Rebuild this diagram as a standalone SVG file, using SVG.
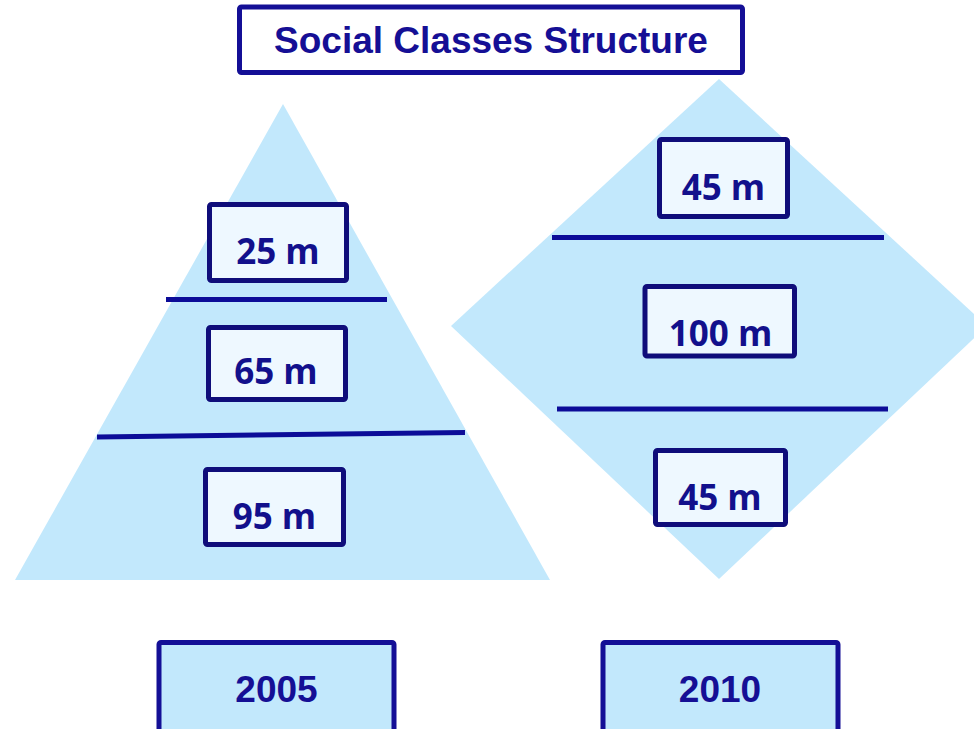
<svg xmlns="http://www.w3.org/2000/svg" width="974" height="729" viewBox="0 0 974 729">
  <style>
    .shape { fill: #c2e8fc; }
    .cls { fill: #eef8ff; stroke: #0f0d7a; stroke-width: 5; stroke-linejoin: round; }
    .year { fill: #c2e8fc; stroke: #140f96; stroke-width: 5; stroke-linejoin: round; }
    .title-box { fill: #ffffff; stroke: #140f96; stroke-width: 5; stroke-linejoin: round; }
    .divider { stroke: #0c0c98; stroke-width: 5; stroke-linecap: butt; }
    .lbl { font-family: "Open Sans", "Noto Sans", "DejaVu Sans", sans-serif; font-weight: 700; font-size: 35px; fill: #12108c; text-anchor: middle; }
    .head { font-family: "Liberation Sans", Arial, sans-serif; font-weight: 700; font-size: 37px; fill: #150f95; text-anchor: middle; }
  </style>

  <!-- heading -->
  <g id="title">
    <rect class="title-box" x="239.5" y="7" width="503" height="65.5" rx="2"/>
    <text class="head" x="491" y="53">Social Classes Structure</text>
  </g>

  <!-- 2005: pyramid -->
  <g id="pyramid-2005">
    <polygon class="shape" points="283,104 15,580 550,580"/>
  </g>

  <!-- 2010: diamond, drawn as two halves sharing the middle edge -->
  <g id="diamond-2010">
    <polygon class="shape" points="719,79 451,326 987,326"/>
    <polygon class="shape" points="451,326 719,579 987,326"/>
  </g>

  <!-- divider lines between classes -->
  <g id="dividers">
    <line class="divider" x1="166" y1="299.5" x2="387" y2="299.5"/>
    <line class="divider" x1="97" y1="437" x2="465" y2="432.5"/>
    <line class="divider" x1="552" y1="237.5" x2="884" y2="237.5"/>
    <line class="divider" x1="557" y1="409" x2="888" y2="409"/>
  </g>

  <!-- class sizes, 2005 -->
  <g id="c2005-upper">
    <rect class="cls" x="209.5" y="204.5" width="137" height="76" rx="2"/>
    <text class="lbl" x="278" y="264">25 m</text>
  </g>
  <g id="c2005-middle">
    <rect class="cls" x="208.5" y="327.5" width="137" height="72" rx="2"/>
    <text class="lbl" x="276" y="384">65 m</text>
  </g>
  <g id="c2005-lower">
    <rect class="cls" x="205.5" y="469.5" width="138" height="75" rx="2"/>
    <text class="lbl" x="274.5" y="529">95 m</text>
  </g>

  <!-- class sizes, 2010 -->
  <g id="c2010-upper">
    <rect class="cls" x="659.5" y="139.5" width="128" height="77" rx="2"/>
    <text class="lbl" x="723.5" y="200">45 m</text>
  </g>
  <g id="c2010-middle">
    <rect class="cls" x="645" y="286.5" width="149.5" height="69.5" rx="2"/>
    <text class="lbl" x="720.5" y="345.5">100 m</text>
  </g>
  <g id="c2010-lower">
    <rect class="cls" x="655.5" y="450.5" width="130" height="74" rx="2"/>
    <text class="lbl" x="720" y="510">45 m</text>
  </g>

  <!-- year captions -->
  <g id="year-2005">
    <rect class="year" x="159" y="642.5" width="235" height="100" rx="2"/>
    <text class="head" x="276.5" y="702">2005</text>
  </g>
  <g id="year-2010">
    <rect class="year" x="603" y="642.5" width="235" height="100" rx="2"/>
    <text class="head" x="720" y="702">2010</text>
  </g>
</svg>
